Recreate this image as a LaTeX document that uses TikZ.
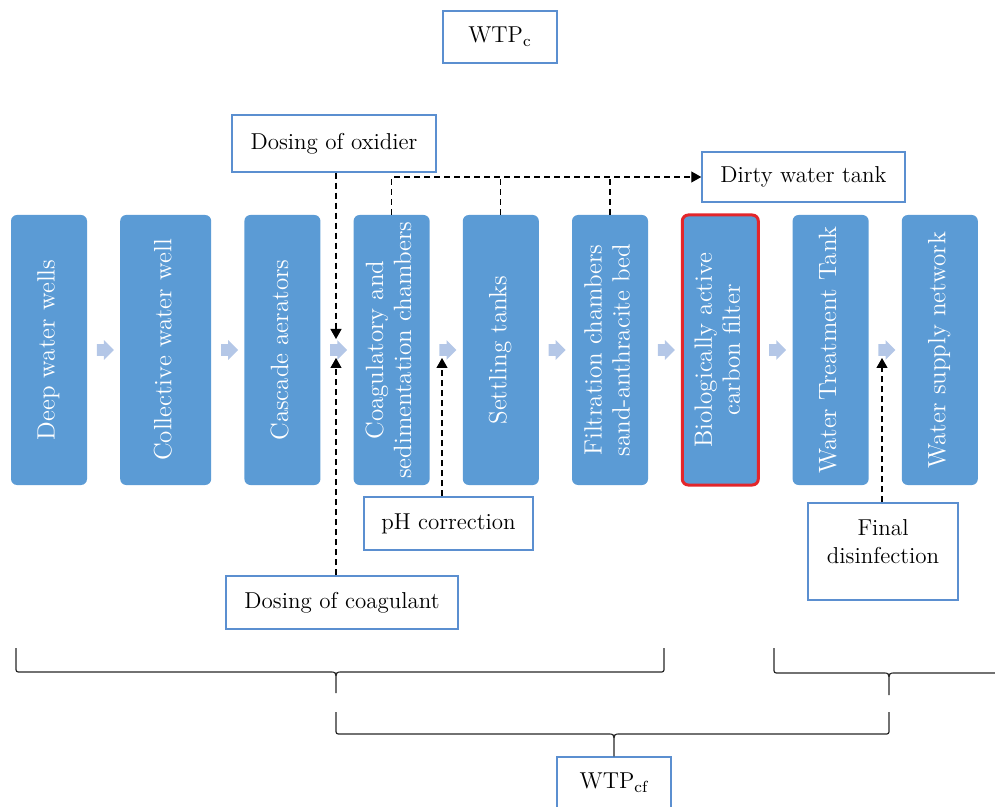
\documentclass[tikz,border=0pt]{standalone}
\usepackage{xcolor}
\definecolor{stageBlue}{HTML}{5B9BD5}
\definecolor{flowBlue}{HTML}{B4C7E7}
\definecolor{noteBlue}{HTML}{5B8FD0}
\definecolor{alertRed}{HTML}{E3262B}
\usepackage{graphicx}
\usepackage{tikz}
\usetikzlibrary{arrows.meta, positioning, shapes.arrows}

\newcommand{\vlabel}[1]{\rotatebox{90}{\begin{tabular}{@{}c@{}}#1\end{tabular}}}

\begin{document}
\begin{tikzpicture}[
		x=0.5pt, y=-0.5pt,
		node distance=16.2pt,
		stage/.style={
			fill=stageBlue,
			rounded corners=3pt,
			minimum width=38pt,
			minimum height=135pt,
			inner sep=0pt,
			text=white,
			font=\fontsize{12.5}{14}\selectfont
		},
		flow/.style={
			single arrow,
			fill=flowBlue,
			minimum height=8.5pt,
			minimum width=9.5pt,
			single arrow head extend=2pt,
			inner xsep=0pt,
			inner ysep=2.75pt
		},
		note/.style={
			draw=noteBlue,
			line width=0.75pt,
			fill=white,
			align=center,
			inner sep=0pt,
			font=\fontsize{11.5}{14}\selectfont
		},
		dosing/.style={-{Triangle[length=5pt,width=5.5pt]}, dash pattern=on 3pt off 2pt, line width=0.6pt},
		curly/.style={line width=0.6pt, black!85}
		]
		
		\path[use as bounding box, clip] (0,0) rectangle (995,807);
		
		\node[stage] (wells) at (49,350) {\vlabel{Deep water wells}};
		\node[stage, minimum width=45.5pt, right=of wells] (collect) {\vlabel{Collective water well}};
		\node[stage, right=of collect] (aerator) {\vlabel{Cascade aerators}};
		\node[stage, right=of aerator] (coagch) {\vlabel{Coagulatory and\\sedimentation chambers}};
		\node[stage, right=of coagch] (settle) {\vlabel{Settling tanks}};
		\node[stage, right=of settle] (filter) {\vlabel{Filtration chambers\\sand-anthracite bed}};
		\node[stage, draw=alertRed, line width=1.5pt, right=of filter] (carbon) {\vlabel{Biologically active\\carbon filter}};
		\node[stage, right=of carbon] (tank) {\vlabel{Water Treatment Tank}};
		\node[stage, right=of tank] (network) {\vlabel{Water supply network}};
		
		\node[flow, right=4.5pt of wells] (f1) {};
		\node[flow, right=4.5pt of collect] (f2) {};
		\node[flow, right=4.5pt of aerator] (f3) {};
		\node[flow, right=4.5pt of coagch] (f4) {};
		\node[flow, right=4.5pt of settle] (f5) {};
		\node[flow, right=4.5pt of filter] (f6) {};
		\node[flow, right=4.5pt of carbon] (f7) {};
		\node[flow, right=4.5pt of tank] (f8) {};
		
		\node[note, minimum width=57pt, minimum height=26pt] (wtpc) at (500,37) {WTP\textsubscript{c}};
		\node[note, minimum width=102pt, minimum height=28.5pt] (oxid) at (334,143.5) {Dosing of oxidier};
		\node[note, minimum width=101.5pt, minimum height=25pt] (dirty) at (803.5,177) {Dirty water tank};
		\node[note, minimum width=84.5pt, minimum height=26.5pt] (ph) at (448.5,523.5) {pH correction};
		\node[note, minimum width=116pt, minimum height=26.5pt] (coag) at (342,602.5) {Dosing of coagulant};
		\node[note, minimum width=75pt, minimum height=48.5pt] (disinf) at (883,551.5) {Final\\disinfection\\[-4.5pt]\mbox{}};
		\node[note, minimum width=57pt, minimum height=26pt] (wtpcf) at (614,783) {WTP\textsubscript{cf}};
		
		% dosing points
		\coordinate (oxin) at (336,339);
		\coordinate (coin) at (336,358);
		\coordinate (phin) at (442,358);
		\coordinate (finin) at (882,358);
		
		\draw[dosing] (oxid.south -| oxin) -- (oxin);
		\draw[dosing] (coag.north -| coin) -- (coin);
		\draw[dosing] (ph.north -| phin) -- (phin);
		\draw[dosing] (disinf.north -| finin) -- (finin);
		
		% sludge to dirty water tank
		\draw[dosing] (coagch.north) |- (dirty.west);
		\draw[dosing, -] (settle.north) -- (settle.north |- dirty.west);
		\draw[dosing, -] (filter.north) -- (filter.north |- dirty.west);
		
		% braces
		\draw[curly] (16,648) -- (16,667) .. controls (16,672) .. (21,672) -- (330,672) .. controls (336,672) .. (336,681) -- (336,693)
			(336,681) .. controls (336,672) .. (342,672) -- (659,672) .. controls (664,672) .. (664,667) -- (664,648);
		\draw[curly] (774,648) -- (774,668) .. controls (774,673) .. (779,673) -- (883,673) .. controls (889,673) .. (889,682) -- (889,695)
			(889,682) .. controls (889,673) .. (895,673) -- (1000,673);
		\draw[curly] (336,712) -- (336,729) .. controls (336,734) .. (341,734) -- (608,734) .. controls (614,734) .. (614,743) -- (wtpcf.north)
			(614,743) .. controls (614,734) .. (620,734) -- (884,734) .. controls (889,734) .. (889,729) -- (889,712);
		
	\end{tikzpicture}
\end{document}
